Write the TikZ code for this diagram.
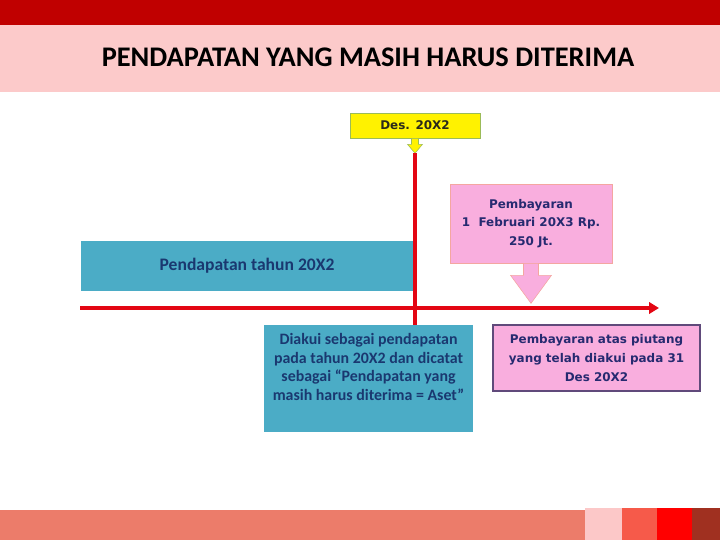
\documentclass[tikz,border=0pt]{standalone}
\usepackage{fontspec}
\setmainfont{Carlito}
\newfontfamily\tahoma{DejaVu Sans}
\usetikzlibrary{arrows.meta}

\definecolor{topred}{HTML}{C00000}
\definecolor{bandpink}{HTML}{FCCACA}
\definecolor{boxblue}{HTML}{4BACC6}
\definecolor{textblue}{HTML}{1A3870}
\definecolor{boxpink}{HTML}{F9AEDE}
\definecolor{pinkedge}{HTML}{F4A6A0}
\definecolor{textnavy}{HTML}{262A70}
\definecolor{datetext}{HTML}{2A2A1A}
\definecolor{dateedge}{HTML}{9BBB59}
\definecolor{purpleedge}{HTML}{604A7B}
\definecolor{linered}{HTML}{E30613}
\definecolor{salmon}{HTML}{EC7C6A}
\definecolor{lightpink}{HTML}{FCC8C8}
\definecolor{tomato}{HTML}{F65A4A}
\definecolor{pureRed}{HTML}{FF0000}
\definecolor{rust}{HTML}{A03020}

\begin{document}
\begin{tikzpicture}[x=0.025cm, y=-0.025cm,
    bluebox/.style ={rectangle, fill=boxblue, inner sep=0pt, text=textblue,
      font=\bfseries\fontsize{11.3}{13.3}\selectfont, align=center},
    pinkbox/.style ={rectangle, fill=boxpink, inner sep=0pt, text=textnavy,
      font=\tahoma\bfseries\fontsize{8.5}{13.3}\selectfont, align=center},
    datebox/.style ={rectangle, draw=dateedge, fill=yellow, inner sep=0pt, text=datetext,
      font=\tahoma\bfseries\fontsize{8.5}{10}\selectfont},
    timeline/.style ={draw=linered, line width=2.2pt}]
   \useasboundingbox (0,0) rectangle (720,540);
   % header
   \fill[topred] (0,0) rectangle (720,25);
   \fill[bandpink] (0,25) rectangle (720,92);
   \node[font=\bfseries\fontsize{20.2}{23}\selectfont] (title) at (368,57) {PENDAPATAN YANG MASIH HARUS DITERIMA};
   % boxes
   \node[datebox, minimum width=3.25cm, minimum height=0.625cm] (tanggal) at (415,125.5) {Des. 20X2};
   \draw[datebox] (tanggal.south) ++(-3.5,0) -- ++(0,6) -- ++(-4,0) -- ++(7.5,9) coordinate (tanda)
     -- ++(7.5,-9) -- ++(-4,0) -- ++(0,-6) -- cycle;
   \node[pinkbox, draw=pinkedge, minimum width=4.05cm, minimum height=1.975cm] (bayar) at (531,223.5)
     {Pembayaran\\1\ \ Februari 20X3 Rp.\\250 Jt.};
   \draw[pinkbox, draw=pinkedge] (bayar.south) ++(-7.5,0) -- ++(0,12) -- ++(-13,0) -- ++(20.5,28)
     -- ++(20.5,-28) -- ++(-13,0) -- ++(0,-12) -- cycle;
   \node[bluebox, font=\bfseries\fontsize{12.5}{15}\selectfont, minimum width=8.3cm, minimum height=1.25cm]
     (pendapatan) at (247,266) {Pendapatan tahun 20X2};
   \node[bluebox, minimum width=5.225cm, minimum height=2.675cm,
     label={[bluebox, fill=none, anchor=north, inner sep=6pt]north:Diakui sebagai pendapatan\\pada tahun 20X2 dan dicatat\\sebagai ``Pendapatan yang\\masih harus diterima = Aset''}]
     (diakui) at (368.5,378.5) {};
   \node[pinkbox, draw=purpleedge, line width=2pt, minimum width=5.175cm, minimum height=1.65cm]
     (piutang) at (596.5,358) {Pembayaran atas piutang\\yang telah diakui pada 31\\Des 20X2};
   % time axis
   \coordinate (awal) at (80,308);
   \coordinate (akhir) at (659,308);
   \draw[timeline, line width=2.8pt, -{Triangle[length=7pt, width=8pt]}] (awal) -- (akhir);
   \draw[timeline] (tanda) -- (tanda |- diakui.north);
   % footer
   \fill[salmon] (0,510) rectangle (585,540);
   \fill[lightpink] (585,508) rectangle (622,540);
   \fill[tomato] (622,508) rectangle (657,540);
   \fill[pureRed] (657,508) rectangle (692,540);
   \fill[rust] (692,508) rectangle (720,540);
\end{tikzpicture}
\end{document}
